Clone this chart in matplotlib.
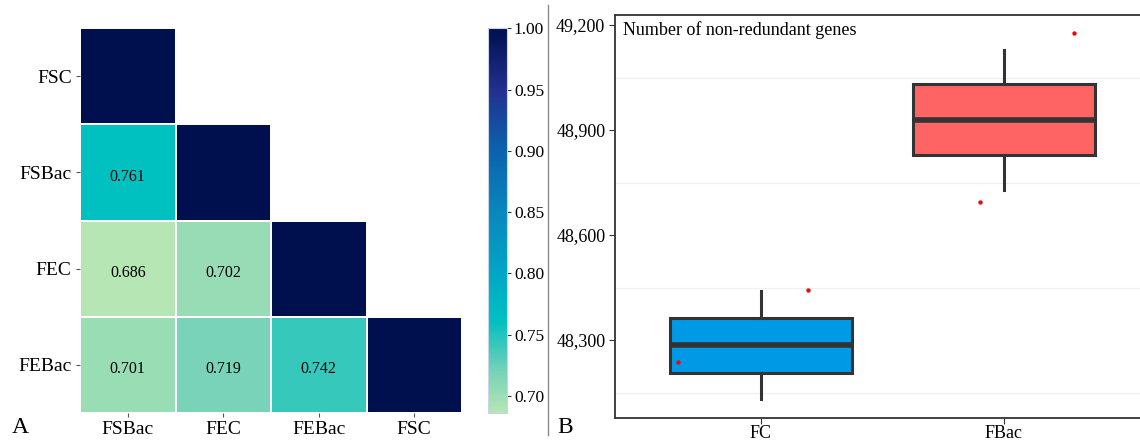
import numpy as np
import matplotlib
matplotlib.use("Agg")
import matplotlib.pyplot as plt
from matplotlib.colors import LinearSegmentedColormap
from matplotlib.lines import Line2D

# panel A: correlation heatmap (lower triangle)
row_labels = ["FSC", "FSBac", "FEC", "FEBac"]
col_labels = ["FSBac", "FEC", "FEBac", "FSC"]
corr = [
    [1.0, np.nan, np.nan, np.nan],
    [0.761, 1.0, np.nan, np.nan],
    [0.686, 0.702, 1.0, np.nan],
    [0.701, 0.719, 0.742, 1.0],
]
cbar_ticks = [0.70, 0.75, 0.80, 0.85, 0.90, 0.95, 1.00]

# panel B: boxplot of non-redundant genes
groups = ["FC", "FBac"]
whislo = [48131, 48729]
q1 = [48207, 48829]
med = [48286, 48929]
q3 = [48362, 49031]
whishi = [48441, 49129]
box_colors = ["#0099e6", "#fe6464"]
# jittered points (group index, offset, value)
pt_group = [0, 0, 1, 1]
pt_offset = [0.195, -0.34, 0.287, -0.098]
pt_value = [48442, 48238, 49176, 48695]
y_ticks = [48300, 48600, 48900, 49200]

plt.rcParams["font.family"] = ["Liberation Serif", "DejaVu Serif"]

fig = plt.figure(figsize=(11.4, 4.41), dpi=100)

# ---- heatmap ----
cmap = LinearSegmentedColormap.from_list("corr", [
    (0.0, "#b5e6b3"),
    (0.11, "#74d1b8"),
    (0.18, "#33c7bb"),
    (0.24, "#00c0c0"),
    (0.365, "#00a6c6"),
    (0.525, "#0a86bd"),
    (0.685, "#0b62ad"),
    (0.84, "#22308f"),
    (1.0, "#00104f"),
])
vmin, vmax = 0.686, 1.0

ax1 = fig.add_axes([80 / 1140, (441 - 412.7) / 441, 382 / 1140, 384.4 / 441])
data = np.ma.masked_invalid(np.array(corr))
mesh = ax1.pcolormesh(data, cmap=cmap, vmin=vmin, vmax=vmax,
                      edgecolors="white", linewidth=1.2)
ax1.set_xlim(0, len(col_labels))
ax1.set_ylim(len(row_labels), 0)
for i in range(len(row_labels)):
    for j in range(len(col_labels)):
        v = corr[i][j]
        if not np.isnan(v) and v < 1.0:
            ax1.text(j + 0.5, i + 0.55, f"{v:.3f}", ha="center", va="center",
                     fontsize=11.5, color="black")
ax1.set_xticks(np.arange(len(col_labels)) + 0.5)
ax1.set_xticklabels(col_labels, fontsize=14)
ax1.set_yticks(np.arange(len(row_labels)) + 0.5)
ax1.set_yticklabels(row_labels, fontsize=14)
ax1.tick_params(length=3, color="#555555", pad=3)
for s in ax1.spines.values():
    s.set_visible(False)

cax = fig.add_axes([488 / 1140, 28 / 441, 19 / 1140, 384.7 / 441])
cb = fig.colorbar(mesh, cax=cax, ticks=cbar_ticks)
cb.ax.set_yticklabels([f"{t:.2f}" for t in cbar_ticks], fontsize=12.5)
cb.ax.tick_params(length=3, color="#333333", pad=2)
cb.outline.set_edgecolor("#c8d4e8")
cb.outline.set_linewidth(0.8)

fig.text(12 / 1140, (441 - 433) / 441, "A", fontsize=17, ha="left", va="baseline")

# separator line
fig.add_artist(Line2D([548 / 1140, 548 / 1140], [(441 - 435) / 441, (441 - 5) / 441],
                      transform=fig.transFigure, color="#8a8a8a", linewidth=1.0))

# ---- boxplot ----
ax2 = fig.add_axes([615 / 1140, (441 - 417.7) / 441, 534.6 / 1140, 402.7 / 441])
stats = []
for k, g in enumerate(groups):
    stats.append(dict(label=g, whislo=whislo[k], q1=q1[k], med=med[k],
                      q3=q3[k], whishi=whishi[k], fliers=[]))
bp = ax2.bxp(stats, positions=[1, 2], widths=0.75, patch_artist=True,
             showcaps=False,
             boxprops=dict(edgecolor="#333333", linewidth=2.2),
             whiskerprops=dict(color="#333333", linewidth=2.2),
             medianprops=dict(color="#333333", linewidth=4))
for patch, c in zip(bp["boxes"], box_colors):
    patch.set_facecolor(c)
    patch.set_zorder(2)

px = [pt_group[i] + 1 + pt_offset[i] for i in range(len(pt_value))]
ax2.scatter(px, pt_value, s=10, color="#ff0000", zorder=4, linewidths=0)

ax2.set_xlim(0.4, 2.6)
ax2.set_ylim(48078, 49228.6)
ax2.set_yticks(y_ticks)
ax2.set_yticklabels([f"{v:,}" for v in y_ticks], fontsize=13)
ax2.set_yticks([48150, 48450, 48750, 49050], minor=True)
ax2.yaxis.grid(True, which="minor", color="#f0f0f0", linewidth=0.9)
ax2.set_axisbelow(True)
ax2.tick_params(axis="y", which="minor", length=0)
ax2.tick_params(axis="both", which="major", length=4, color="#333333", pad=3)
ax2.tick_params(axis="x", pad=1.5)
ax2.set_xticklabels(groups, fontsize=13)
for s in ax2.spines.values():
    s.set_color("#333333")
    s.set_linewidth(1.3)
ax2.text(0.015, 0.985, "Number of non-redundant genes", transform=ax2.transAxes,
         ha="left", va="top", fontsize=13)

fig.text(557 / 1140, (441 - 433) / 441, "B", fontsize=17, ha="left", va="baseline")

fig.savefig("out.png", dpi=100)
